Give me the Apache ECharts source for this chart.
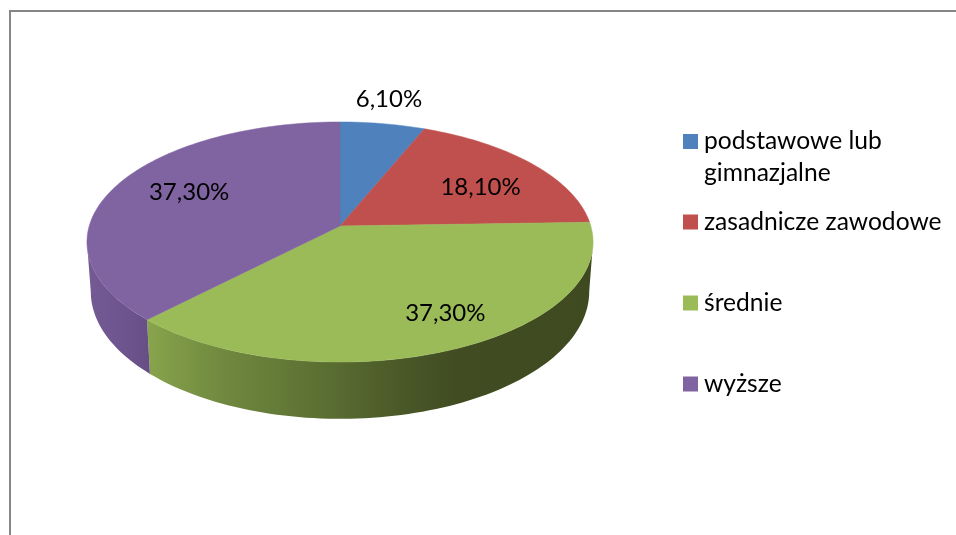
<!DOCTYPE html>
<html><head><meta charset="utf-8">
<style>html,body{margin:0;padding:0;background:#fff}#c{width:956px;height:535px}</style>
<script src="https://cdn.jsdelivr.net/npm/echarts@6/dist/echarts.min.js"></script>
</head><body><div id="c"></div>
<script>
// Data
const categories = ['podstawowe lub\ngimnazjalne', 'zasadnicze zawodowe', 'średnie', 'wyższe'];
const values = [6.1, 18.1, 37.3, 37.3];
const valueLabels = ['6,10%', '18,10%', '37,30%', '37,30%'];
// Styles
const topColors = ['#4F81BD', '#C0504D', '#9BBB59', '#8064A2'];
const sideStops = [
  [[0, '#3f6390'], [1, '#3f6390']],
  [[0, '#7a3230'], [1, '#7a3230']],
  [[0, '#88a44c'], [0.17, '#70893f'], [0.39, '#5c7033'], [0.58, '#4a5828'], [0.7, '#414c22'], [1, '#3f4a21']],
  [[0, '#735a92'], [0.5, '#6f5590'], [1, '#664f84']]
];
const labelRadius = [1.25, 0.72, 0.73, 0.68];
const labelNudge = [[-3, -2], [0, 7], [24, 1], [2, -5]];
const legendTops = [125, 206, 287, 368];
const fontFamily = 'Lato';
const labelFontSize = 24;
const legendFontSize = 24.6;

// Perspective pie geometry
const CX = 340, K = 0.1333;
const topPlane = {cy: 226, a: 250.8, b: 117.9};
const bottomPlane = {cy: 274.6, a: 247, b: 125};
const total = values.reduce((s, v) => s + v, 0);
// Only the part of the rim between the two silhouette angles faces the viewer
const rimFrom = 97.6, rimTo = 262.4;

function project(plane, deg, r) {
  const t = deg * Math.PI / 180;
  const u = Math.sin(t) * r, v = -Math.cos(t) * r;
  const w = 1 - K * v;
  return [CX + plane.a * u / w, plane.cy + plane.b * v / w];
}
function arc(plane, a0, a1) {
  const pts = [];
  const n = Math.max(2, Math.ceil((a1 - a0) / 1.5));
  for (let i = 0; i <= n; i++) pts.push(project(plane, a0 + (a1 - a0) * i / n, 1));
  return pts;
}
function renderSlice(index) {
  return function (params, api) {
    const before = values.slice(0, index).reduce((s, v) => s + v, 0);
    const a0 = before / total * 360;
    const a1 = (before + api.value(0)) / total * 360;
    const mid = (a0 + a1) / 2;
    const topArc = arc(topPlane, a0, a1);
    const lp = project(topPlane, mid, labelRadius[index]);
    const children = [];
    const s0 = Math.max(a0, rimFrom), s1 = Math.min(a1, rimTo);
    if (s1 > s0) {
      const sideFill = {
        type: 'linear', global: true, x: index === 3 ? 91 : 147, y: 0, x2: index === 3 ? 150 : 589, y2: 0,
        colorStops: sideStops[index].map(s => ({offset: s[0], color: s[1]}))
      };
      children.push({type: 'polygon', z2: 1,
        shape: {points: arc(topPlane, s0, s1).concat(arc(bottomPlane, s0, s1).reverse())},
        style: {fill: sideFill, stroke: null}});
    }
    children.push(
      {type: 'polygon', z2: 10, shape: {points: [[CX, topPlane.cy]].concat(topArc)},
       style: {fill: topColors[index], stroke: topColors[index], lineWidth: 0.5}},
      {type: 'text', z2: 20, x: lp[0] + labelNudge[index][0], y: lp[1] + labelNudge[index][1],
       style: {text: valueLabels[index], fill: '#000', fontFamily, fontSize: labelFontSize, align: 'center', verticalAlign: 'middle'}}
    );
    return {type: 'group', children};
  };
}

const chart = echarts.init(document.getElementById('c'), null, {renderer: 'canvas'});
chart.setOption({
  animation: false,
  backgroundColor: '#fff',
  graphic: [{
    type: 'polyline', silent: true,
    shape: {points: [[10, 535], [10, 11], [956, 11]]},
    style: {stroke: '#868686', lineWidth: 2, fill: null}
  }],
  legend: categories.map((name, i) => ({
    data: [name],
    orient: 'vertical',
    left: 683,
    top: legendTops[i],
    padding: 0,
    selectedMode: false,
    itemWidth: 15,
    itemHeight: i === 0 ? 46 : 15,
    icon: i === 0 ? 'path://M0 0H15V15H0Z M0 46L0 46' : 'rect',
    textStyle: {fontFamily, fontSize: legendFontSize, color: '#000', lineHeight: 32, padding: [0, 0, 0, 1]}
  })),
  series: categories.map((name, i) => ({
    type: 'custom',
    name,
    coordinateSystem: 'none',
    itemStyle: {color: topColors[i]},
    data: [[values[i]]],
    renderItem: renderSlice(i)
  }))
});
</script></body></html>
